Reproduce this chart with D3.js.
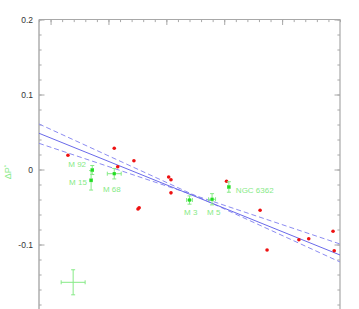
<!DOCTYPE html>
<html>
<head>
<meta charset="utf-8">
<script src="https://cdn.jsdelivr.net/npm/d3@7/dist/d3.min.js"></script>
<style>
  html, body { margin: 0; padding: 0; background: #fff; }
  svg { display: block; font-family: 'Liberation Sans', Arial, sans-serif; }
</style>
</head>
<body>
<svg id="chart" width="359" height="309"></svg>
<script>
// red sample points
const redX = [0.30, 1.10, 1.44, 1.16, 2.04, 2.08, 2.08, 1.53, 1.51, 3.04, 3.62, 3.74, 4.29, 4.46, 4.88, 4.90];
const redY = [0.019, 0.0283, 0.0117, 0.0037, -0.0100, -0.0136, -0.0311, -0.0509, -0.0527, -0.0157, -0.0544, -0.1073, -0.0937, -0.0924, -0.0823, -0.1084];

// named clusters with errors
const clusterNames = ['M 92', 'M 15', 'M 68', 'M 3', 'M 5', 'NGC 6362'];
const clusterX = [0.72, 0.70, 1.10, 2.40, 2.79, 3.08];
const clusterY = [-0.0007, -0.0144, -0.0056, -0.0407, -0.0397, -0.0233];
const clusterErrX = [0.02, 0.02, 0.12, 0.05, 0.06, 0.02];
const clusterErrY = [0.006, 0.013, 0.007, 0.0055, 0.0075, 0.007];

// typical error cross
const errCrossX = [0.39];
const errCrossY = [-0.1504];
const errCrossEX = [0.207];
const errCrossEY = [0.0167];

// fit and slope +/- sigma lines (ends of x range)
const lineX = [-0.2, 5.0];
const fitY = [0.0483, -0.114];
const steepY = [0.0607, -0.1233];
const shallowY = [0.0349, -0.0993];

const yMajor = [-0.1, 0, 0.1, 0.2];
const yMinor = d3.range(-10, 11).map((i) => i * 0.02);
const xMajor = [0, 1, 2, 3, 4];
const xMinor = d3.range(-1, 26).map((i) => i * 0.2);

// label placement relative to the point, in px
const labelShift = [[-24, -3.3], [-22, 4.7], [-11.3, 18.6], [-5.5, 15], [-5, 15.7], [7, 5.8]];

const svg = d3.select('#chart');
const plotLeft = 39, plotRight = 340, plotTop = 19.5;
const x = d3.scaleLinear().domain([-0.2, 5.0]).range([plotLeft, plotRight]);
const y = d3.scaleLinear().domain([-0.2, 0.2]).range([319.5, plotTop]);

const axisColor = '#a8a8a8';
const green = '#22dd22';
const lightGreen = '#86ea86';

// frame
svg.append('line').attr('x1', plotLeft).attr('x2', plotLeft).attr('y1', plotTop).attr('y2', 309).attr('stroke', axisColor).attr('stroke-width', 1.4);
svg.append('line').attr('x1', plotRight).attr('x2', plotRight).attr('y1', plotTop).attr('y2', 309).attr('stroke', axisColor).attr('stroke-width', 1.2);
svg.append('line').attr('x1', plotLeft).attr('x2', plotRight).attr('y1', plotTop).attr('y2', plotTop).attr('stroke', axisColor).attr('stroke-width', 1.2);

function styleAxis(g) {
  g.select('.domain').remove();
  g.selectAll('.tick line').attr('stroke', axisColor).attr('stroke-width', 1);
}

// top axis, ticks pointing down
svg.append('g').attr('transform', `translate(0,${plotTop})`).call(d3.axisBottom(x).tickValues(xMinor).tickSize(2.6).tickFormat('')).call(styleAxis);
svg.append('g').attr('transform', `translate(0,${plotTop})`).call(d3.axisBottom(x).tickValues(xMajor).tickSize(5.5).tickFormat('')).call(styleAxis);

// left axis, ticks inward, labels outside
svg.append('g').attr('transform', `translate(${plotLeft},0)`).call(d3.axisRight(y).tickValues(yMinor).tickSize(2.6).tickFormat('')).call(styleAxis);
svg.append('g').attr('transform', `translate(${plotLeft},0)`)
  .call(d3.axisLeft(y).tickValues(yMajor).tickSizeInner(-5.5).tickSizeOuter(0).tickPadding(6).tickFormat((d) => (d === 0 ? '0' : String(+d.toFixed(1)))))
  .call(styleAxis)
  .call((g) => g.selectAll('text').attr('fill', '#333').attr('font-size', 8.5));

// right axis, ticks inward
svg.append('g').attr('transform', `translate(${plotRight},0)`).call(d3.axisLeft(y).tickValues(yMinor).tickSize(2.6).tickFormat('')).call(styleAxis);
svg.append('g').attr('transform', `translate(${plotRight},0)`).call(d3.axisLeft(y).tickValues(yMajor).tickSize(5.5).tickFormat('')).call(styleAxis);

// y label
svg.append('text').attr('transform', 'translate(11,172) rotate(-90)').attr('text-anchor', 'middle').attr('fill', lightGreen).attr('font-size', 9)
  .text('ΔP').append('tspan').attr('dy', -3).attr('font-size', 6).text('*');

// fit lines
const line = d3.line().x((d) => x(d[0])).y((d) => y(d[1]));
const zip = (ys) => lineX.map((v, i) => [v, ys[i]]);
svg.append('path').attr('d', line(zip(steepY))).attr('fill', 'none').attr('stroke', '#8c8cf2').attr('stroke-width', 1).attr('stroke-dasharray', '5,3');
svg.append('path').attr('d', line(zip(shallowY))).attr('fill', 'none').attr('stroke', '#8c8cf2').attr('stroke-width', 1).attr('stroke-dasharray', '5,3');
svg.append('path').attr('d', line(zip(fitY))).attr('fill', 'none').attr('stroke', '#6a6aea').attr('stroke-width', 1);

// red points
svg.append('g').selectAll('circle').data(redX.map((v, i) => [v, redY[i]])).join('circle')
  .attr('cx', (d) => x(d[0])).attr('cy', (d) => y(d[1])).attr('r', 1.8)
  .attr('fill', '#ee1111');

// error bars
function errorBars(g, data, color) {
  const cap = 2;
  data.forEach((d) => {
    const cx = x(d.x), cy = y(d.y);
    const y0 = y(d.y - d.ey), y1 = y(d.y + d.ey);
    const x0 = x(d.x - d.ex), x1 = x(d.x + d.ex);
    g.append('line').attr('x1', cx).attr('x2', cx).attr('y1', y0).attr('y2', y1);
    g.append('line').attr('x1', cx - cap).attr('x2', cx + cap).attr('y1', y0).attr('y2', y0);
    g.append('line').attr('x1', cx - cap).attr('x2', cx + cap).attr('y1', y1).attr('y2', y1);
    g.append('line').attr('x1', x0).attr('x2', x1).attr('y1', cy).attr('y2', cy);
    g.append('line').attr('x1', x0).attr('x2', x0).attr('y1', cy - cap).attr('y2', cy + cap);
    g.append('line').attr('x1', x1).attr('x2', x1).attr('y1', cy - cap).attr('y2', cy + cap);
  });
  g.attr('stroke', color).attr('stroke-width', 1);
}

const clusters = clusterNames.map((name, i) => ({ name, x: clusterX[i], y: clusterY[i], ex: clusterErrX[i], ey: clusterErrY[i], shift: labelShift[i] }));
errorBars(svg.append('g'), clusters, lightGreen);
errorBars(svg.append('g'), errCrossX.map((v, i) => ({ x: v, y: errCrossY[i], ex: errCrossEX[i], ey: errCrossEY[i] })), lightGreen);

svg.append('g').selectAll('rect').data(clusters).join('rect')
  .attr('x', (d) => x(d.x) - 1.6).attr('y', (d) => y(d.y) - 1.6).attr('width', 3.2).attr('height', 3.2)
  .attr('fill', green);

svg.append('g').selectAll('text').data(clusters).join('text')
  .attr('x', (d) => x(d.x) + d.shift[0]).attr('y', (d) => y(d.y) + d.shift[1])
  .attr('fill', lightGreen).attr('font-size', 8)
  .text((d) => d.name);
</script>
</body>
</html>
